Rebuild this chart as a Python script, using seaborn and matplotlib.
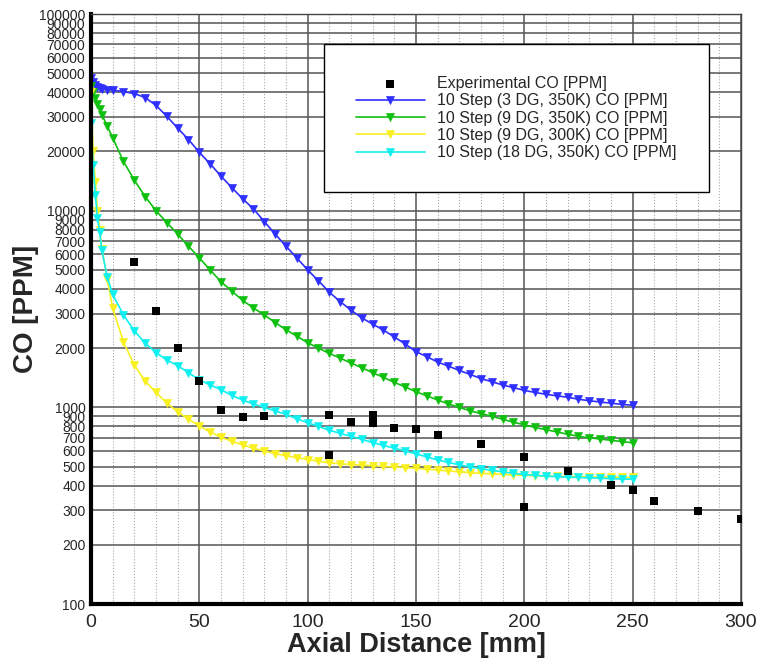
import numpy as np
import pandas as pd
import matplotlib.pyplot as plt
import seaborn as sns

# experimental data
exp_x = [20, 30, 40, 50, 60, 70, 80, 110, 110, 120, 130, 130, 140, 150, 160, 180,
         200, 200, 220, 240, 250, 260, 280, 300]
exp_co = [5500, 3080, 2010, 1360, 965, 895, 905, 914, 572, 839, 914, 829, 785, 776,
          723, 653, 557, 311, 474, 401, 378, 335, 298, 270]

# model results (axial distance in mm)
model_x = [0, 1, 2, 3, 4, 5, 7.5, 10, 15, 20, 25, 30, 35, 40, 45, 50, 55, 60, 65, 70,
           75, 80, 85, 90, 95, 100, 105, 110, 115, 120, 125, 130, 135, 140, 145, 150,
           155, 160, 165, 170, 175, 180, 185, 190, 195, 200, 205, 210, 215, 220, 225,
           230, 235, 240, 245, 250]
co_3dg_350 = [47500, 45000, 43500, 42600, 42100, 41800, 41300, 41000, 40300, 39400,
              37600, 34300, 30200, 26300, 23000, 19800, 17300, 15000, 13100, 11500,
              10200, 8800, 7600, 6600, 5750, 5000, 4400, 3850, 3450, 3120, 2850, 2650,
              2470, 2280, 2100, 1920, 1810, 1700, 1620, 1540, 1470, 1400, 1350, 1300,
              1260, 1220, 1190, 1165, 1145, 1125, 1100, 1080, 1065, 1050, 1035, 1025]
co_9dg_350 = [43000, 40000, 37500, 35000, 32800, 30800, 27000, 23500, 17800, 14300,
              11800, 10000, 8700, 7600, 6600, 5750, 5000, 4350, 3900, 3500, 3200, 2950,
              2700, 2480, 2300, 2130, 2000, 1880, 1780, 1680, 1590, 1500, 1420, 1340,
              1270, 1200, 1145, 1090, 1040, 1000, 960, 930, 900, 870, 840, 815, 790,
              770, 750, 730, 712, 700, 690, 680, 670, 660]
co_9dg_300 = [40000, 20000, 14000, 10000, 8000, 6400, 4500, 3200, 2150, 1640, 1360,
              1190, 1050, 950, 870, 805, 750, 705, 672, 645, 620, 600, 582, 568, 555,
              543, 532, 522, 516, 512, 508, 505, 501, 498, 494, 490, 485, 480, 475, 470,
              466, 462, 459, 456, 453, 451, 449, 448, 446, 445, 444, 443, 442, 442, 441,
              440]
co_18dg_350 = [28000, 17000, 12000, 9200, 7800, 6300, 4600, 3750, 2950, 2450, 2120,
               1900, 1740, 1630, 1500, 1380, 1300, 1230, 1150, 1090, 1040, 1000, 960,
               920, 875, 835, 800, 765, 738, 712, 688, 662, 640, 620, 600, 580, 560, 540,
               525, 510, 498, 488, 478, 470, 462, 455, 451, 447, 444, 442, 440, 438, 436,
               434, 432, 431]

labels = ['10 Step (3 DG, 350K) CO [PPM]', '10 Step (9 DG, 350K) CO [PPM]',
          '10 Step (9 DG, 300K) CO [PPM]', '10 Step (18 DG, 350K) CO [PPM]']
colors = ['#2f2fff', '#10c010', '#f8f020', '#10f0f0']
series = [co_3dg_350, co_9dg_350, co_9dg_300, co_18dg_350]

y_ticks = [100, 200, 300, 400, 500, 600, 700, 800, 900,
           1000, 2000, 3000, 4000, 5000, 6000, 7000, 8000, 9000,
           10000, 20000, 30000, 40000, 50000, 60000, 70000, 80000, 90000, 100000]

sns.set_style('white')
plt.rcParams['font.family'] = ['Liberation Sans', 'DejaVu Sans']

fig = plt.figure(figsize=(7.62, 6.61), dpi=100)
ax = fig.add_axes([0.1194, 0.0862, 0.853, 0.8926])

exp_df = pd.DataFrame({'x': exp_x, 'co': exp_co})
sns.scatterplot(data=exp_df, x='x', y='co', marker='s', color='black', s=36,
                edgecolor='black', linewidth=0, label='Experimental CO [PPM]',
                zorder=10, ax=ax)

for vals, lab, col in zip(series, labels, colors):
    df = pd.DataFrame({'x': model_x, 'co': vals})
    sns.lineplot(data=df, x='x', y='co', color=col, lw=1.2, marker='v', markersize=6,
                 markeredgecolor=col, markeredgewidth=0.5, label=lab, sort=False,
                 estimator=None, ax=ax)

ax.set_yscale('log')
ax.set_xlim(0, 300)
ax.set_ylim(100, 100000)
ax.set_yticks(y_ticks)
ax.set_yticklabels([str(v) for v in y_ticks], fontsize=10)
ax.yaxis.set_minor_locator(plt.NullLocator())
ax.set_xticks(range(0, 301, 50))
ax.set_xticks(range(0, 301, 10), minor=True)
ax.tick_params(axis='x', labelsize=14, direction='in', length=13, width=2, pad=7)
ax.tick_params(axis='x', which='minor', direction='in', length=8, width=1)
ax.tick_params(axis='y', direction='in', length=15, width=2.5, pad=4)

ax.grid(True, axis='y', color='#555555', lw=1.1)
ax.grid(True, axis='x', which='major', color='#555555', lw=1.1)
ax.grid(True, axis='x', which='minor', color='#aaaaaa', lw=0.8, ls=':')
ax.set_axisbelow(True)

for side in ['left', 'bottom']:
    ax.spines[side].set_linewidth(3)
    ax.spines[side].set_color('black')
for side in ['top', 'right']:
    ax.spines[side].set_linewidth(1)
    ax.spines[side].set_color('#444444')

ax.set_xlabel('Axial Distance [mm]', fontsize=19.5, fontweight='bold', labelpad=1)
ax.set_ylabel('CO [PPM]', fontsize=20, fontweight='bold', labelpad=0)

leg = ax.legend(loc='upper right', bbox_to_anchor=(0.963, 0.963), fontsize=11.5,
                frameon=True, fancybox=False, framealpha=1, edgecolor='black',
                borderpad=2.0, handlelength=4.3, handletextpad=0.8, labelspacing=0.15)
leg.get_frame().set_linewidth(1)

fig.savefig('out.png', dpi=100)
